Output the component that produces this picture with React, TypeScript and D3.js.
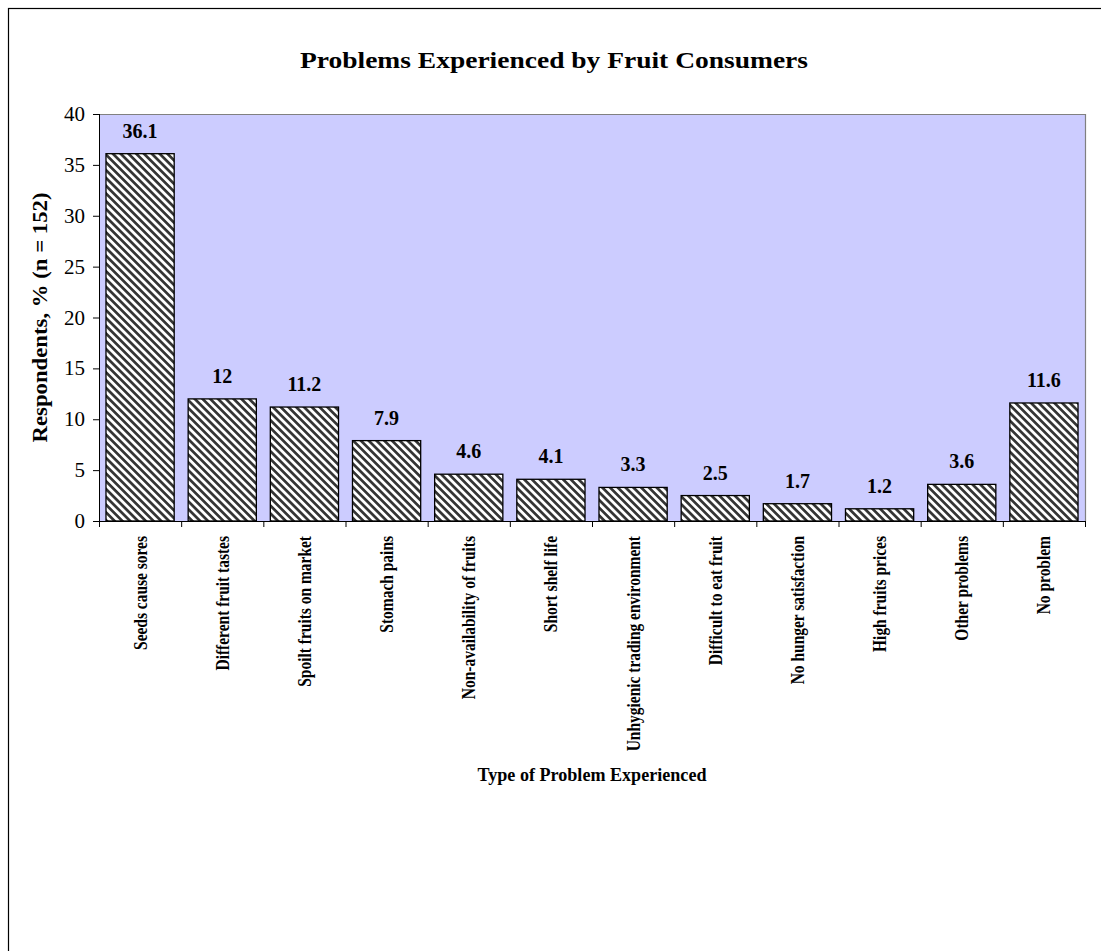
import React from "react";
import * as d3 from "d3";

const categories = [
  "Seeds cause sores",
  "Different fruit tastes",
  "Spoilt fruits on market",
  "Stomach pains",
  "Non-availability of fruits",
  "Short shelf life",
  "Unhygienic trading environment",
  "Difficult to eat fruit",
  "No hunger satisfaction",
  "High fruits prices",
  "Other problems",
  "No problem",
];
const values = [36.1, 12, 11.2, 7.9, 4.6, 4.1, 3.3, 2.5, 1.7, 1.2, 3.6, 11.6];
const yTicks = [0, 5, 10, 15, 20, 25, 30, 35, 40];

const title = "Problems Experienced by Fruit Consumers";
const yTitle = "Respondents, % (n = 152)";
const xTitle = "Type of Problem Experienced";

export default function App() {
  const W = 1101;
  const H = 951;
  const left = 99;
  const right = 1085;
  const top = 114;
  const bottom = 521;
  const font = "'Liberation Serif', 'Times New Roman', serif";

  const x = d3.scaleBand<string>().domain(categories).range([left, right]).paddingInner(0.17).paddingOuter(0.085);
  const y = d3.scaleLinear().domain([0, 40]).range([bottom, top]);
  const step = (right - left) / categories.length;

  return (
    <svg width={W} height={H} style={{ position: "absolute", left: 0, top: 0 }}>
      <defs>
        <pattern id="diag" patternUnits="userSpaceOnUse" width="5.5" height="5.5" patternTransform="rotate(45)">
          <rect width="5.5" height="5.5" fill="#ffffff" />
          <rect width="5.5" height="2.7" fill="#333333" />
        </pattern>
      </defs>
      <rect x={0} y={0} width={W} height={H} fill="#fff" />
      <rect x={8.5} y={8.5} width={1200} height={1200} fill="#fff" stroke="#000" strokeWidth={1.2} />
      <text x={554} y={68} textAnchor="middle" fontFamily={font} fontWeight="bold" fontSize={24} textLength={508} lengthAdjust="spacingAndGlyphs">
        {title}
      </text>
      <rect x={left} y={top} width={right - left} height={bottom - top} fill="#ccccff" />
      <line x1={right + 0.5} x2={right + 0.5} y1={top} y2={bottom} stroke="#808080" strokeWidth={1.2} />
      <line x1={left} x2={right} y1={top + 0.5} y2={top + 0.5} stroke="#808080" strokeWidth={1} />
      {categories.map((c, i) => (
        <g key={c}>
          <rect
            x={x(c)}
            y={y(values[i])}
            width={x.bandwidth()}
            height={bottom - y(values[i])}
            fill="url(#diag)"
            stroke="#000"
            strokeWidth={1.3}
          />
          <text
            x={(x(c) as number) + x.bandwidth() / 2}
            y={y(values[i]) - 16}
            textAnchor="middle"
            fontFamily={font}
            fontWeight="bold"
            fontSize={20}
          >
            {values[i]}
          </text>
          <text
            transform={`translate(${(x(c) as number) + x.bandwidth() / 2 + 6.5},${bottom + 15}) rotate(-90) scale(0.86,1)`}
            textAnchor="end"
            fontFamily={font}
            fontWeight="bold"
            fontSize={18}
          >
            {c}
          </text>
        </g>
      ))}
      <line x1={left + 0.5} x2={left + 0.5} y1={top} y2={bottom} stroke="#000" strokeWidth={1} />
      <line x1={left} x2={right} y1={bottom + 0.5} y2={bottom + 0.5} stroke="#000" strokeWidth={1} />
      {yTicks.map((t) => (
        <g key={t}>
          <line x1={left - 6} x2={left} y1={y(t) + 0.5} y2={y(t) + 0.5} stroke="#000" />
          <text x={left - 14} y={y(t) + 7} textAnchor="end" fontFamily={font} fontSize={21}>
            {t}
          </text>
        </g>
      ))}
      {d3.range(categories.length + 1).map((i) => (
        <line
          key={i}
          x1={left + i * step + 0.5}
          x2={left + i * step + 0.5}
          y1={bottom}
          y2={bottom + 6}
          stroke="#000"
        />
      ))}
      <text
        transform={`translate(47,${(top + bottom) / 2}) rotate(-90)`}
        textAnchor="middle"
        fontFamily={font}
        fontWeight="bold"
        fontSize={20}
        textLength={250}
        lengthAdjust="spacingAndGlyphs"
      >
        {yTitle}
      </text>
      <text x={592} y={781} textAnchor="middle" fontFamily={font} fontWeight="bold" fontSize={18} textLength={229} lengthAdjust="spacingAndGlyphs">
        {xTitle}
      </text>
    </svg>
  );
}
